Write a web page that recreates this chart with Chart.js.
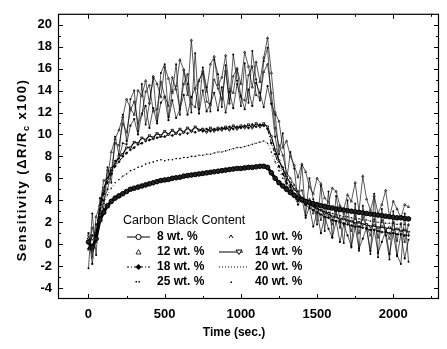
<!DOCTYPE html>
<html>
<head>
<meta charset="utf-8">
<script src="https://cdn.jsdelivr.net/npm/chart.js@4/dist/chart.umd.min.js"></script>
<style>
body { margin: 0; background: #fff; }
</style>
</head>
<body>
<canvas id="chart" width="447" height="349"></canvas>
<script>
// time axis (sec.)
const times = [0,25,50,75,100,125,150,175,200,225,250,275,300,325,350,375,400,425,450,475,500,525,550,575,600,625,650,675,700,725,750,775,800,825,850,875,900,925,950,975,1000,1025,1050,1075,1100,1125,1150,1175,1200,1225,1250,1275,1300,1325,1350,1375,1400,1425,1450,1475,1500,1525,1550,1575,1600,1625,1650,1675,1700,1725,1750,1775,1800,1825,1850,1875,1900,1925,1950,1975,2000,2025,2050,2075,2100];

// sensitivity readings, one array per carbon black content
const wt8 = [0.2,-0.3,0.5,2.2,2.9,3.5,3.9,4.2,4.4,4.6,
  4.8,5.0,5.1,5.2,5.3,5.4,5.5,5.6,5.7,5.8,
  5.85,5.9,6.0,6.05,6.1,6.2,6.25,6.3,6.35,6.4,
  6.45,6.5,6.55,6.6,6.65,6.7,6.75,6.8,6.85,6.9,
  6.9,6.95,7.0,7.0,7.05,7.1,7.1,7.0,6.5,6.0,
  5.6,5.3,5.0,4.7,4.45,4.2,4.05,3.9,3.8,3.7,
  3.6,3.5,3.45,3.35,3.3,3.2,3.15,3.1,3.05,3.0,
  2.95,2.9,2.85,2.8,2.75,2.7,2.65,2.6,2.55,2.5,
  2.45,2.4,2.4,2.35,2.3];
const wt10 = [0.8,-1.2,2.5,3.6,5.8,6.0,8.4,9.6,10.4,11.6,
  13.2,12.4,11.8,14.0,13.5,14.9,12.9,15.3,14.6,13.4,
  16.2,15.1,13.8,14.4,16.8,15.9,13.6,18.6,14.2,14.9,
  15.8,13.9,16.4,17.1,14.5,15.2,17.2,14.1,13.8,16.0,
  14.6,17.5,16.2,14.3,16.6,14.8,17.0,18.8,15.6,12.0,
  11.2,8.8,9.4,8.0,7.2,6.1,7.3,6.6,5.2,4.6,
  6.0,5.5,4.2,3.8,5.1,4.8,3.5,3.2,4.5,3.9,
  5.6,3.0,6.2,4.1,3.1,4.4,2.8,3.6,4.9,2.5,
  3.9,3.2,2.4,3.6,3.4];
const wt12 = [-0.5,1.5,0.2,3.0,4.6,6.8,6.6,9.2,9.0,11.0,
  10.2,12.2,13.0,11.0,11.8,13.9,14.5,12.1,12.3,14.8,
  13.5,12.6,15.2,14.1,12.4,14.6,15.5,12.8,12.5,14.9,
  15.6,13.0,12.7,15.0,14.2,13.2,15.8,12.9,15.3,16.0,
  13.4,13.1,15.4,16.2,13.6,13.3,15.7,16.4,13.8,10.6,
  9.0,8.1,6.5,6.0,5.4,4.8,4.9,3.6,4.1,2.8,
  3.7,2.2,3.3,2.6,1.8,3.0,1.5,2.8,2.2,1.2,
  2.6,1.0,2.5,1.6,0.8,2.3,0.6,2.2,1.4,0.5,
  2.0,0.3,1.9,0.2,1.8];
const wt14 = [0.5,-0.6,1.0,3.4,5.1,5.9,6.9,7.3,8.0,8.2,
  8.8,8.8,9.3,9.2,9.7,9.5,9.9,9.7,10.1,9.9,
  10.3,10.0,10.4,10.1,10.5,10.2,10.6,10.3,10.7,10.4,
  10.5,10.2,10.6,10.3,10.6,10.4,10.7,10.4,10.8,10.5,
  10.8,10.6,10.9,10.6,11.0,10.7,11.0,10.7,9.8,8.6,
  7.6,6.9,6.1,5.6,5.0,4.7,4.2,4.0,3.6,3.5,
  3.2,3.1,2.8,2.8,2.5,2.5,2.3,2.3,2.1,2.1,
  1.9,2.0,1.8,1.8,1.6,1.7,1.5,1.6,1.4,1.5,
  1.3,1.4,1.2,1.3,1.1];
const wt18 = [-0.4,0.8,0.6,2.8,4.6,5.6,6.4,7.1,7.5,8.0,
  8.3,8.6,8.8,9.1,9.2,9.4,9.5,9.6,9.7,9.8,
  9.8,10.0,9.9,10.1,10.0,10.2,10.1,10.3,10.2,10.4,
  10.3,10.5,10.3,10.5,10.4,10.6,10.5,10.7,10.5,10.7,
  10.6,10.8,10.6,10.9,10.7,10.9,10.8,10.5,9.2,8.2,
  7.1,6.4,5.6,5.2,4.6,4.3,3.9,3.6,3.3,3.1,
  2.9,2.7,2.5,2.4,2.2,2.1,2.0,1.9,1.8,1.7,
  1.6,1.6,1.5,1.4,1.3,1.3,1.2,1.1,1.1,1.0,
  1.0,0.9,0.9,0.8,0.8];
const wt20 = [0.0,0.4,0.8,2.4,3.7,4.5,5.1,5.6,5.9,6.2,
  6.4,6.7,6.8,7.0,7.1,7.3,7.4,7.5,7.6,7.7,
  7.6,7.7,7.7,7.8,7.8,7.9,7.9,8.0,8.0,8.1,
  8.1,8.2,8.2,8.3,8.4,8.4,8.5,8.6,8.7,8.8,
  8.8,8.9,9.0,9.1,9.2,9.3,9.4,9.2,8.4,7.5,
  6.7,6.0,5.5,5.0,4.6,4.3,4.0,3.8,3.6,3.4,
  3.3,3.1,3.0,2.9,2.8,2.7,2.6,2.5,2.5,2.4,
  2.3,2.3,2.2,2.2,2.1,2.1,2.0,2.0,1.9,1.9,
  1.9,1.8,1.8,1.8,1.7];
const wt25 = [1.0,-1.8,1.8,2.0,4.0,5.0,6.4,7.6,7.8,9.2,
  9.1,10.8,11.4,10.0,11.9,12.6,10.6,12.4,11.0,12.9,
  13.4,11.3,13.1,11.5,12.3,13.6,11.8,13.4,14.2,11.9,
  14.0,12.1,12.8,13.8,12.2,14.3,12.0,13.9,12.4,14.6,
  13.5,12.3,14.1,12.6,14.7,13.8,12.5,14.4,12.8,9.8,
  7.6,7.0,5.2,5.4,4.4,3.6,4.2,2.4,3.4,1.6,
  2.9,1.0,2.5,1.4,0.6,2.1,0.2,1.8,0.8,-0.2,
  1.6,-0.4,0.5,1.5,-0.6,1.3,-0.8,0.2,1.2,-0.9,
  1.0,-1.1,0.9,-1.3,0.4];
const wt40 = [-2.2,2.8,-1.0,4.2,3.2,7.0,5.6,9.8,8.2,11.8,
  9.4,13.2,14.0,10.3,14.6,10.9,12.8,15.2,11.2,15.6,
  16.4,11.6,13.9,16.4,11.8,15.9,14.6,12.0,17.4,12.3,
  16.1,14.3,12.1,16.8,15.5,12.5,16.3,12.8,17.3,14.9,
  12.6,16.5,12.9,17.6,15.0,13.1,16.7,17.9,12.8,11.8,
  8.2,10.1,5.8,8.4,6.9,3.9,7.2,2.6,6.0,4.1,
  1.8,5.3,1.2,4.8,0.6,4.4,2.2,0.1,4.0,-0.3,
  3.7,-0.6,3.5,1.4,-0.9,4.6,-1.2,3.2,0.8,-1.4,
  3.0,-1.0,-1.8,2.8,-1.6];

const seriesNames = ['8 wt. %','10 wt. %','12 wt. %','14 wt. %','18 wt. %','20 wt. %','25 wt. %','40 wt. %'];
const xTickValues = [0,500,1000,1500,2000];
const xMinorValues = [250,750,1250,1750,2250];
const yTickValues = [-4,-2,0,2,4,6,8,10,12,14,16,18,20];
const yMinorValues = [-3,-1,1,3,5,7,9,11,13,15,17,19];
const xTitle = 'Time (sec.)';
const yTitleParts = ['Sensitivity (\u0394R/R', 'c', ' x100)'];
const legendTitle = 'Carbon Black Content';

const FONT = '"Liberation Sans", Arial, Helvetica, sans-serif';

function pts(arr) {
  return times.map((t, i) => ({x: t, y: arr[i]}));
}

const noisy = 'rgba(0,0,0,0.82)';
const datasets = [
  {label: seriesNames[0], data: pts(wt8), borderColor: '#000', borderWidth: 3,
   pointStyle: 'circle', pointRadius: 2.3, pointBackgroundColor: '#222', pointBorderColor: '#000', pointBorderWidth: 1, order: 0},
  {label: seriesNames[1], data: pts(wt10), borderColor: noisy, borderWidth: 0.8,
   pointStyle: 'triangle', pointRadius: 1.3, pointBackgroundColor: '#fff', pointBorderColor: '#000', pointBorderWidth: 0.7, order: 5},
  {label: seriesNames[2], data: pts(wt12), borderColor: noisy, borderWidth: 0.8,
   pointStyle: 'triangle', pointRadius: 1.1, pointBackgroundColor: '#fff', pointBorderColor: '#000', pointBorderWidth: 0.7, order: 6},
  {label: seriesNames[3], data: pts(wt14), borderColor: '#000', borderWidth: 1.2,
   pointStyle: 'triangle', rotation: 180, pointRadius: 1.5, pointBackgroundColor: '#fff', pointBorderColor: '#000', pointBorderWidth: 0.8, order: 2},
  {label: seriesNames[4], data: pts(wt18), borderColor: '#000', borderWidth: 1, borderDash: [4, 2, 1, 2],
   pointStyle: 'rectRot', pointRadius: 1.3, pointBackgroundColor: '#000', pointBorderColor: '#000', pointBorderWidth: 0.5, order: 3},
  {label: seriesNames[5], data: pts(wt20), borderColor: 'rgba(0,0,0,0.7)', borderWidth: 1, borderDash: [1, 3],
   pointRadius: 0.8, pointBackgroundColor: '#000', pointBorderWidth: 0, order: 1},
  {label: seriesNames[6], data: pts(wt25), borderColor: noisy, borderWidth: 0.8,
   pointRadius: 1.1, pointBackgroundColor: '#000', pointBorderWidth: 0, order: 7},
  {label: seriesNames[7], data: pts(wt40), borderColor: noisy, borderWidth: 0.8,
   pointRadius: 1, pointBackgroundColor: '#000', pointBorderWidth: 0, order: 8}
];

const sampleKinds = ['lineCircle','caret','triangle','lineDownTri','dashDot','dotted','twoDots','dot'];

function drawSample(ctx, kind, x0, x1, yy) {
  const xm = (x0 + x1) / 2;
  ctx.save();
  ctx.strokeStyle = '#000';
  ctx.fillStyle = '#000';
  ctx.lineWidth = 1;
  if (kind === 'lineCircle') {
    ctx.beginPath(); ctx.moveTo(x0, yy); ctx.lineTo(x1, yy); ctx.stroke();
    ctx.beginPath(); ctx.arc(xm, yy, 2.6, 0, Math.PI * 2); ctx.fillStyle = '#fff'; ctx.fill(); ctx.stroke();
  } else if (kind === 'caret') {
    ctx.beginPath(); ctx.moveTo(xm - 2, yy + 1); ctx.lineTo(xm, yy - 2); ctx.lineTo(xm + 2, yy + 1); ctx.stroke();
  } else if (kind === 'triangle') {
    ctx.lineWidth = 0.8;
    ctx.beginPath(); ctx.moveTo(xm - 2.5, yy + 2); ctx.lineTo(xm, yy - 2.5); ctx.lineTo(xm + 2.5, yy + 2); ctx.closePath(); ctx.stroke();
  } else if (kind === 'lineDownTri') {
    ctx.beginPath(); ctx.moveTo(x0, yy); ctx.lineTo(x1, yy); ctx.stroke();
    const tx = x1 - 4;
    ctx.beginPath(); ctx.moveTo(tx - 3, yy - 2); ctx.lineTo(tx + 3, yy - 2); ctx.lineTo(tx, yy + 2.5); ctx.closePath();
    ctx.fillStyle = '#fff'; ctx.fill(); ctx.stroke();
  } else if (kind === 'dashDot') {
    ctx.setLineDash([2, 2, 1, 2]);
    ctx.beginPath(); ctx.moveTo(x0, yy); ctx.lineTo(x1, yy); ctx.stroke();
    ctx.setLineDash([]);
    ctx.beginPath(); ctx.moveTo(xm, yy - 3); ctx.lineTo(xm + 3, yy); ctx.lineTo(xm, yy + 3); ctx.lineTo(xm - 3, yy); ctx.closePath(); ctx.fill();
  } else if (kind === 'dotted') {
    ctx.setLineDash([1, 2]);
    ctx.beginPath(); ctx.moveTo(x0, yy); ctx.lineTo(x1 + 6, yy); ctx.stroke();
  } else if (kind === 'twoDots') {
    ctx.fillRect(xm - 3, yy - 1, 1.5, 1.5);
    ctx.fillRect(xm, yy - 1, 1.5, 1.5);
  } else if (kind === 'dot') {
    ctx.fillRect(xm - 0.5, yy - 0.5, 1.5, 1.5);
  }
  ctx.restore();
}

const framePlugin = {
  id: 'frame',
  afterDraw(chart) {
    const ctx = chart.ctx;
    const a = chart.chartArea;
    const x = chart.scales.x;
    const y = chart.scales.y;
    ctx.save();
    ctx.strokeStyle = '#000';
    ctx.lineWidth = 1.2;
    ctx.strokeRect(a.left + 0.5, a.top + 0.5, a.right - a.left - 1, a.bottom - a.top - 1);

    // inward tick marks on all four sides
    ctx.lineWidth = 1;
    ctx.beginPath();
    const xt = (vals, len) => vals.forEach(v => {
      const p = Math.round(x.getPixelForValue(v)) + 0.5;
      ctx.moveTo(p, a.bottom); ctx.lineTo(p, a.bottom - len);
      ctx.moveTo(p, a.top); ctx.lineTo(p, a.top + len);
    });
    const yt = (vals, len) => vals.forEach(v => {
      const p = Math.round(y.getPixelForValue(v)) + 0.5;
      ctx.moveTo(a.left, p); ctx.lineTo(a.left + len, p);
      ctx.moveTo(a.right, p); ctx.lineTo(a.right - len, p);
    });
    xt(xTickValues, 5); xt(xMinorValues, 3);
    yt(yTickValues, 5); yt(yMinorValues, 3);
    ctx.stroke();

    // axis titles
    ctx.fillStyle = '#000';
    ctx.textBaseline = 'middle';
    ctx.font = 'bold 12px ' + FONT;
    ctx.textAlign = 'center';
    ctx.fillText(xTitle, 234, 333);

    ctx.save();
    ctx.translate(22, 170);
    ctx.rotate(-Math.PI / 2);
    ctx.letterSpacing = '1.5px';
    ctx.textAlign = 'left';
    const mainFont = 'bold 13px ' + FONT;
    const subFont = 'bold 9px ' + FONT;
    ctx.font = mainFont;
    const w0 = ctx.measureText(yTitleParts[0]).width;
    const w2 = ctx.measureText(yTitleParts[2]).width;
    ctx.font = subFont;
    const w1 = ctx.measureText(yTitleParts[1]).width;
    let cx = -(w0 + w1 + w2) / 2;
    ctx.font = mainFont;
    ctx.fillText(yTitleParts[0], cx, 0);
    cx += w0;
    ctx.font = subFont;
    ctx.fillText(yTitleParts[1], cx, 5);
    cx += w1;
    ctx.font = mainFont;
    ctx.fillText(yTitleParts[2], cx, 0);
    ctx.restore();

    // legend inside the plot
    ctx.textAlign = 'left';
    ctx.font = '12.5px ' + FONT;
    ctx.fillText(legendTitle, 123, 221);
    const rows = [237, 252, 267, 282];
    const cols = [
      {idx: [0, 2, 4, 6], x0: 127, x1: 150, tx: 157},
      {idx: [1, 3, 5, 7], x0: 219, x1: 243, tx: 255}
    ];
    ctx.font = 'bold 12px ' + FONT;
    cols.forEach(c => {
      c.idx.forEach((k, r) => {
        drawSample(ctx, sampleKinds[k], c.x0, c.x1, rows[r]);
        ctx.fillText(seriesNames[k], c.tx, rows[r]);
      });
    });
    ctx.restore();
  }
};

const tickFont = {family: FONT, size: 13, weight: 'bold'};

new Chart(document.getElementById('chart'), {
  type: 'line',
  data: {datasets: datasets},
  options: {
    responsive: false,
    animation: false,
    devicePixelRatio: 1,
    layout: {padding: {top: 8, right: 8, left: 0, bottom: 0}},
    elements: {line: {tension: 0}},
    plugins: {legend: {display: false}, tooltip: {enabled: false}},
    scales: {
      x: {
        type: 'linear', min: -200, max: 2300,
        grid: {display: false, drawTicks: false},
        border: {display: false},
        ticks: {color: '#000', font: tickFont, padding: 8, maxRotation: 0, callback: v => String(v)},
        afterBuildTicks: s => { s.ticks = xTickValues.map(v => ({value: v})); },
        afterFit: s => { s.height = 50; }
      },
      y: {
        type: 'linear', min: -5, max: 21,
        grid: {display: false, drawTicks: false},
        border: {display: false},
        ticks: {color: '#000', font: tickFont, padding: 6, callback: v => String(v)},
        afterBuildTicks: s => { s.ticks = yTickValues.map(v => ({value: v})); },
        afterFit: s => { s.width = 58; }
      }
    }
  },
  plugins: [framePlugin]
});
</script>
</body>
</html>
